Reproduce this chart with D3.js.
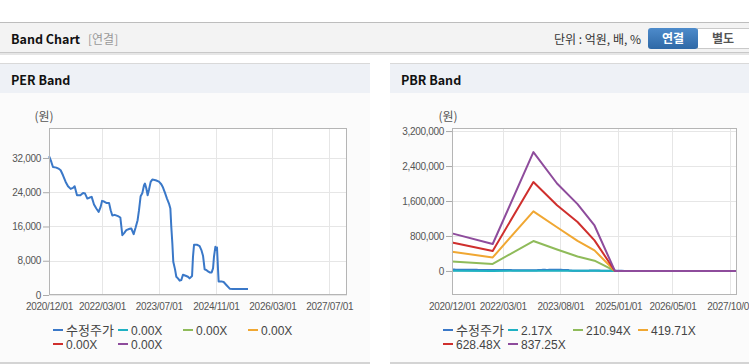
<!DOCTYPE html>
<meta charset="utf-8">
<style>
    body { margin: 0; background: #fff; }
    svg text { font-family: "Liberation Sans", Arial, sans-serif; }
    .kr { font-family: "Noto Sans CJK KR", "Noto Sans", sans-serif; }
    .axis text { font-size: 10px; fill: #555; letter-spacing: -0.3px; }
    .axis path, .axis line { stroke: #aaa; }
    .grid line { stroke: #e6e6e6; }
    .legend text { font-size: 12px; fill: #444; }
</style>
<svg width="749" height="364"></svg>
<script src="https://cdn.jsdelivr.net/npm/d3@7"></script>
<script>
    var svg = d3.select("svg");
    var parse = d3.timeParse("%Y-%m-%d");
    var fmtDate = d3.timeFormat("%Y/%m/%d");

    // ---- data ----
    var priceDates = ["2020-12-01","2020-12-07","2020-12-21","2021-01-04","2021-02-02","2021-02-25","2021-03-11",
        "2021-03-31","2021-04-23","2021-05-13","2021-06-05","2021-06-25","2021-07-09","2021-07-29","2021-08-27",
        "2021-09-19","2021-10-06","2021-10-26","2021-11-15","2021-12-02","2021-12-22","2022-01-11","2022-01-31",
        "2022-02-17","2022-03-01","2022-03-18","2022-04-07","2022-04-30","2022-05-14","2022-05-28","2022-06-17",
        "2022-07-16","2022-08-05","2022-08-22","2022-09-08","2022-09-25","2022-10-24","2022-11-07","2022-11-27",
        "2022-12-14","2022-12-31","2023-01-12","2023-01-26","2023-02-10","2023-02-24","2023-03-04","2023-03-16",
        "2023-03-27","2023-04-08","2023-04-22","2023-05-06","2023-06-04","2023-07-02","2023-07-22","2023-08-06",
        "2023-08-23","2023-09-09","2023-09-26","2023-10-08","2023-10-16","2023-10-25","2023-11-02","2023-11-17",
        "2023-11-28","2023-12-12","2023-12-27","2024-01-10","2024-01-24","2024-02-16","2024-03-07","2024-03-21",
        "2024-04-11","2024-04-19","2024-04-28","2024-05-26","2024-06-15","2024-06-30","2024-07-14","2024-07-28",
        "2024-08-11","2024-08-26","2024-09-09","2024-09-26","2024-10-08","2024-10-16","2024-10-28","2024-11-05",
        "2024-11-11","2024-11-20","2024-11-25","2024-12-18","2025-01-07","2025-01-30","2025-02-28","2025-03-28",
        "2025-08-04"];
    var priceValues = [32400,32100,31070,29900,29750,29440,29125,
        27960,26410,25400,24780,25010,25400,23300,23300,
        23840,23690,22520,22760,22910,21130,20190,19420,
        20580,21980,21830,21510,21510,19810,18560,18720,
        18410,18100,13980,14520,15150,15460,15530,14210,
        15770,17480,19810,23070,23840,25630,26020,24860,
        23300,24620,26410,26950,26800,26490,25870,25090,
        23840,22520,21360,20190,15920,12040,7770,5980,
        4270,3880,3340,3500,4740,4500,4270,3880,
        4430,8930,11730,11730,11420,10490,9170,5980,
        5830,5510,5280,5280,6210,8930,11260,10490,
        11110,5830,3180,3180,3030,2330,1480,1400,
        1400];

    var pbrDates = ["2020-12-01","2021-12-01","2022-12-01","2023-07-01","2024-01-01","2024-06-01","2024-12-01","2027-12-01"];
    var band1 = [2200, 1600, 7000, 5200, 4000, 2800, 0, 0];                          // 2.17X
    var band2 = [216000, 160000, 685000, 490000, 330000, 235000, 0, 0];               // 210.94X
    var band3 = [440000, 309000, 1364000, 1000000, 690000, 470000, 0, 0];             // 419.71X
    var band4 = [650000, 458000, 2035000, 1505000, 1120000, 700000, 0, 0];            // 628.48X
    var band5 = [859000, 616000, 2720000, 2000000, 1528000, 1040000, 0, 0];           // 837.25X

    var seriesColors = ["#3a78c8", "#1fb1c3", "#8fbb5a", "#f0a732", "#cf2f2d", "#8e4c9c"];
    var perLabels = ["수정주가", "0.00X", "0.00X", "0.00X", "0.00X", "0.00X"];
    var pbrLabels = ["수정주가", "2.17X", "210.94X", "419.71X", "628.48X", "837.25X"];

    var perXTicks = ["2020-12-01","2022-03-01","2023-07-01","2024-11-01","2026-03-01","2027-07-01"];
    var pbrXTicks = ["2020-12-01","2022-03-01","2023-08-01","2025-01-01","2026-05-01","2027-10-01"];
    var perYTicks = [0, 8000, 16000, 24000, 32000];
    var pbrYTicks = [0, 800000, 1600000, 2400000, 3200000];
    var xDomain = [parse("2020-12-01"), parse("2027-12-01")];

    // ---- page chrome ----
    svg.append("rect").attr("x", 0).attr("y", 22).attr("width", 749).attr("height", 31).attr("fill", "#f3f3f3");
    svg.append("line").attr("x1", 0).attr("x2", 749).attr("y1", 22.5).attr("y2", 22.5).attr("stroke", "#bdbdbd");
    svg.append("rect").attr("x", 0).attr("y", 52).attr("width", 749).attr("height", 1).attr("fill", "#c8c8c8");
    svg.append("rect").attr("x", 0).attr("y", 53).attr("width", 749).attr("height", 2).attr("fill", "#e6e6e6");
    svg.append("text").attr("x", 11).attr("y", 44).attr("class", "kr")
        .style("font-size", "12.5px").style("font-weight", "bold").attr("fill", "#111").text("Band Chart");
    svg.append("text").attr("x", 88).attr("y", 44).attr("class", "kr")
        .style("font-size", "12px").attr("fill", "#999").text("[연결]");
    svg.append("text").attr("x", 641).attr("y", 44).attr("class", "kr").attr("text-anchor", "end")
        .style("font-size", "12px").attr("fill", "#333").text("단위 : 억원, 배, %");

    var grad = svg.append("defs").append("linearGradient").attr("id", "btn").attr("x1", 0).attr("x2", 0).attr("y1", 0).attr("y2", 1);
    grad.append("stop").attr("offset", "0%").attr("stop-color", "#4d8bcb");
    grad.append("stop").attr("offset", "100%").attr("stop-color", "#2e68a6");
    svg.append("rect").attr("x", 697.5).attr("y", 28.5).attr("width", 60).attr("height", 20)
        .attr("fill", "#fff").attr("stroke", "#c9c9c9");
    svg.append("rect").attr("x", 648).attr("y", 28).attr("width", 50).attr("height", 21).attr("rx", 3)
        .attr("fill", "url(#btn)");
    svg.append("text").attr("x", 673).attr("y", 43).attr("class", "kr").attr("text-anchor", "middle")
        .style("font-size", "12px").style("font-weight", "bold").attr("fill", "#fff").text("연결");
    svg.append("text").attr("x", 723).attr("y", 43).attr("class", "kr").attr("text-anchor", "middle")
        .style("font-size", "12px").style("font-weight", "bold").attr("fill", "#555").text("별도");

    // ---- panels ----
    function panel(x0, title) {
        svg.append("rect").attr("x", x0).attr("y", 64).attr("width", 370).attr("height", 298).attr("fill", "#fbfbfb");
        svg.append("rect").attr("x", x0).attr("y", 64).attr("width", 370).attr("height", 29).attr("fill", "#eef1f6");
        svg.append("rect").attr("x", x0).attr("y", 63).attr("width", 370).attr("height", 1).attr("fill", "#d9d9d9");
        svg.append("rect").attr("x", x0).attr("y", 362).attr("width", 370).attr("height", 2).attr("fill", "#d4d4d4");
        svg.append("text").attr("x", x0 + 11).attr("y", 85).attr("class", "kr")
            .style("font-size", "12.5px").style("font-weight", "bold").attr("fill", "#111").text(title);
    }
    panel(0, "PER Band");
    panel(390, "PBR Band");

    function chart(opt) {
        var x = d3.scaleTime().domain(xDomain).range([opt.left, opt.right]);
        var y = d3.scaleLinear().domain(opt.yDomain).range([295, 128]);
        var g = svg.append("g");

        g.append("rect").attr("x", opt.left).attr("y", 128).attr("width", opt.right - opt.left).attr("height", 167)
            .attr("fill", "#fff");
        var grid = g.append("g").attr("class", "grid");
        grid.selectAll(".gx").data(opt.xTicks).enter().append("line")
            .attr("x1", function (d) { return Math.round(x(parse(d))) + 0.5; })
            .attr("x2", function (d) { return Math.round(x(parse(d))) + 0.5; })
            .attr("y1", 128).attr("y2", 295);
        grid.selectAll(".gy").data(opt.yTicks).enter().append("line")
            .attr("y1", function (d) { return Math.round(y(d)) + 0.5; })
            .attr("y2", function (d) { return Math.round(y(d)) + 0.5; })
            .attr("x1", opt.left).attr("x2", opt.right);

        var line = d3.line()
            .x(function (d) { return x(d[0]); })
            .y(function (d) { return y(d[1]); });
        opt.series.forEach(function (s, i) {
            if (!s) return;
            g.append("path")
                .datum(s.dates.map(function (d, k) { return [parse(d), s.values[k]]; }))
                .attr("d", line).attr("fill", "none")
                .attr("stroke", seriesColors[i]).attr("stroke-width", 2)
                .attr("stroke-linejoin", "round");
        });

        g.append("rect").attr("x", opt.left + 0.5).attr("y", 128.5).attr("width", opt.right - opt.left - 1).attr("height", 166)
            .attr("fill", "none").attr("stroke", "#b5b5b5");

        g.append("g").attr("class", "axis").attr("transform", "translate(0,295)")
            .call(d3.axisBottom(x).tickValues(opt.xTicks.map(parse)).tickFormat(fmtDate).tickSize(0).tickPadding(8))
            .call(function (a) { a.select(".domain").remove(); });
        g.append("g").attr("class", "axis").attr("transform", "translate(" + opt.left + ",0)")
            .call(d3.axisLeft(y).tickValues(opt.yTicks).tickFormat(d3.format(",")).tickSize(6).tickPadding(2))
            .call(function (a) { a.select(".domain").remove(); });

        g.append("text").attr("x", opt.unitX).attr("y", 121).attr("text-anchor", "middle")
            .attr("class", "kr").style("font-size", "12px").attr("fill", "#555").text("(원)");

        var lg = g.append("g").attr("class", "legend");
        opt.labels.forEach(function (t, i) {
            var lx = opt.panelX + 53 + (i % 4) * 65, ly = 330 + Math.floor(i / 4) * 14;
            lg.append("line").attr("x1", lx).attr("x2", lx + 10).attr("y1", ly).attr("y2", ly)
                .attr("stroke", seriesColors[i]).attr("stroke-width", 2);
            lg.append("text").attr("x", lx + 13).attr("y", ly + 4.5).attr("class", i === 0 ? "kr" : null)
                .style("font-size", i === 0 ? "13px" : "12px").text(t);
        });
    }

    chart({
        left: 49, right: 347, panelX: 0, unitX: 44,
        yDomain: [0, 39000], xTicks: perXTicks, yTicks: perYTicks, labels: perLabels,
        series: [{ dates: priceDates, values: priceValues }]
    });

    chart({
        left: 452, right: 737, panelX: 390, unitX: 448,
        yDomain: [-550000, 3270000], xTicks: pbrXTicks, yTicks: pbrYTicks, labels: pbrLabels,
        series: [
            { dates: priceDates, values: priceValues },
            { dates: pbrDates, values: band1 },
            { dates: pbrDates, values: band2 },
            { dates: pbrDates, values: band3 },
            { dates: pbrDates, values: band4 },
            { dates: pbrDates, values: band5 }
        ]
    });
</script>
